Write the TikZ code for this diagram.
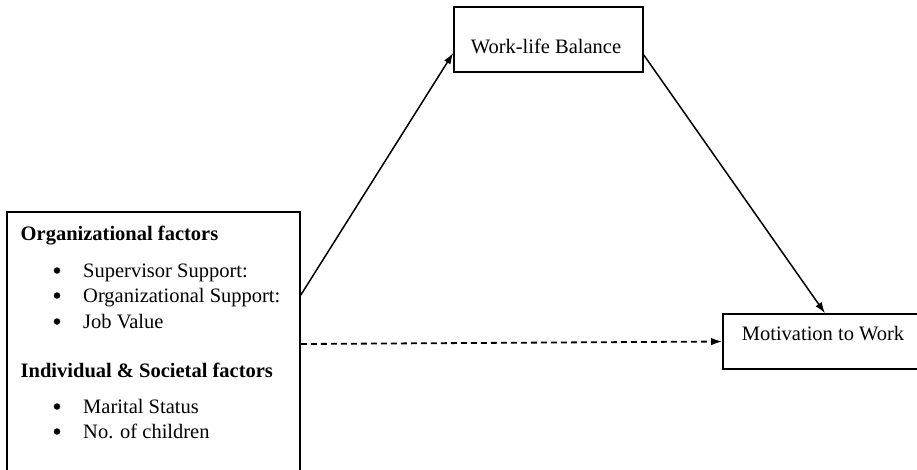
\documentclass[tikz,border=0pt]{standalone}
\usepackage{fontspec}
\setmainfont{Liberation Serif}
\usetikzlibrary{arrows.meta}

\begin{document}
\begin{tikzpicture}[x=1pt,y=-1pt,
    every node/.style={font=\fontsize{20.5}{24}\selectfont, inner sep=0pt},
    box/.style={draw, line width=1.6pt, rectangle},
    dot/.style={circle, fill, minimum size=6.5pt},
    link/.style={line width=1.5pt, -{Latex[length=11pt,width=7.5pt]}}]
    \useasboundingbox (0,0) rectangle (917,469);
    % boxes
    \node (org) [box, minimum width=293pt, minimum height=264pt] at (153.5,344) {};
    \node (wlb) [box, minimum width=189pt, minimum height=65pt] at (548.5,39.5) {};
    \node (mot) [box, minimum width=204pt, minimum height=55pt] at (825,341.5) {};
    \node (wlbtext) [anchor=base] at (546,53) {Work-life Balance};
    \node (mottext) [anchor=base] at (823,340) {Motivation to Work};
    % left box contents
    \node (orghead) [anchor=base west] at (20.5,240) {\textbf{Organizational factors}};
    \node (indhead) [anchor=base west] at (20.5,377) {\textbf{Individual \& Societal factors}};
    \foreach \y/\t [count=\i] in {277/Supervisor Support:, 302/Organizational Support:,
        328/Job Value, 413/Marital Status, 438/No. of children} {
      \node (dot\i) [dot] at (57,\y-6.5) {};
      \node (item\i) [anchor=base west] at (83,\y) {\t};
    }
    % arrows
    \draw[link] ([yshift=49pt]org.east) -- ([yshift=-13.5pt]wlb.west);
    \draw[link] ([yshift=-15.5pt]wlb.east) -- (mot.north);
    \draw[link, line width=1.8pt, dash pattern=on 6pt off 4pt] (org.east) -- (mot.west);
\end{tikzpicture}
\end{document}
